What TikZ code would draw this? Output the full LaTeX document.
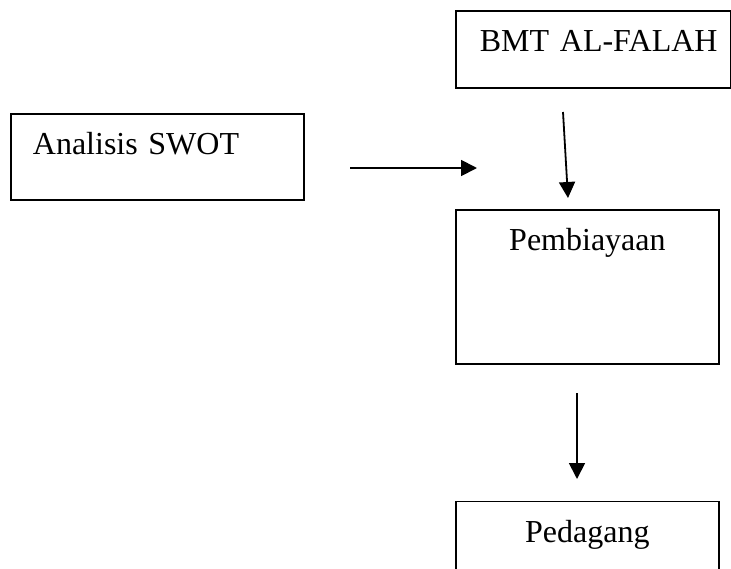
\documentclass[tikz,border=0pt]{standalone}
\usepackage{fontspec}
\setmainfont{Liberation Serif}
\usetikzlibrary{arrows.meta,positioning}

\begin{document}
\begin{tikzpicture}[
        x=1pt, y=-1pt,
        box/.style={draw, line width=1.8pt, inner ysep=0pt, text height=41pt,
          font=\fontsize{32}{38}\selectfont},
        arrow/.style={-{Triangle[length=16pt,width=16pt]}, line width=1.8pt}
      ]
        \useasboundingbox (0,0) rectangle (731,568);
        \node[box, anchor=north west, align=left, inner xsep=22pt, text width=249pt, text depth=45pt] (swot) at (10,113) {Analisis SWOT};
        \node[box, anchor=north west, align=left, inner xsep=24pt, text width=227pt, text depth=36pt] (bmt) at (455,10) {\mbox{BMT AL-FALAH}};
        \node[box, below=120pt of bmt.south west, anchor=north west, align=center, inner xsep=0pt, text width=263pt, text depth=113pt] (biaya) {Pembiayaan};
        \node[box, below=136pt of biaya.south west, anchor=north west, align=center, inner xsep=0pt, text width=263pt, text depth=40pt] (dagang) {Pedagang};
        % free arrow ends
        \coordinate (swotfrom) at (350,168);
        \coordinate (swotto) at (477,168);
        \coordinate (bmtfrom) at (563,112);
        \coordinate (bmtto) at (568,198);
        \coordinate (biayafrom) at (577,393);
        \coordinate (biayato) at (577,479);
        \draw[arrow] (swotfrom) -- (swotto);
        \draw[arrow] (bmtfrom) -- (bmtto);
        \draw[arrow] (biayafrom) -- (biayato);
      \end{tikzpicture}
\end{document}
